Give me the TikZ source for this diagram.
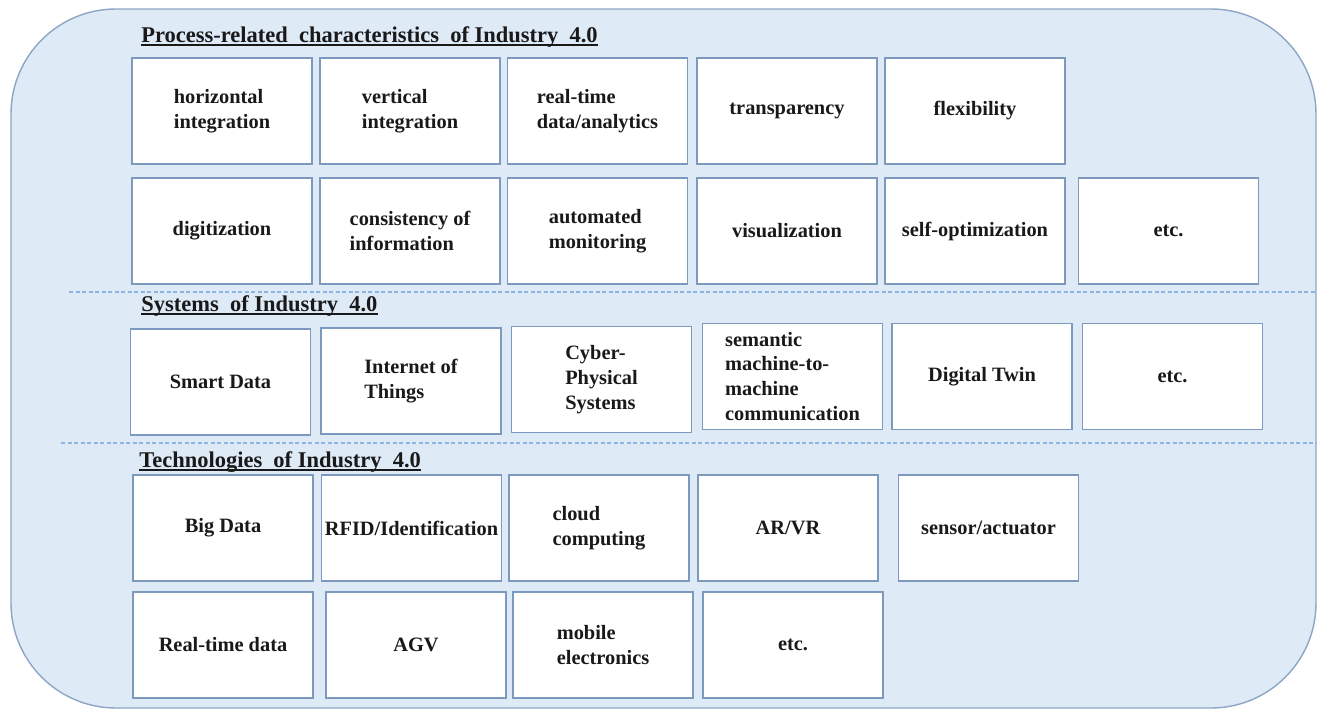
\documentclass[tikz,border=0pt]{standalone}
\usepackage{fontspec}
\setmainfont{Liberation Serif}
\usepackage{tikz}

\definecolor{panelfill}{RGB}{222,234,246}
\definecolor{panelline}{RGB}{140,166,198}
\definecolor{cellline}{RGB}{125,153,190}
\definecolor{sepline}{RGB}{141,180,226}
\definecolor{inktext}{RGB}{25,25,25}

\tikzset{
	cell/.style={draw=cellline, line width=0.8pt, fill=white, minimum width=3.6cm, minimum height=2.12cm, inner sep=1pt, align=left, text=inktext, font=\bfseries\fontsize{11.6}{14.2}\selectfont},
	heading/.style={anchor=base west, inner sep=0pt, text=inktext, font=\bfseries\fontsize{12.8}{15}\selectfont},
	headline/.style={draw=inktext, line width=1.1pt},
	divider/.style={draw=sepline, line width=0.7pt, dash pattern=on 2.3pt off 1.4pt}
}

\begin{document}
\begin{tikzpicture}[x=0.02cm, y=-0.02cm]
			%%%%% START %%%%%
			\useasboundingbox (0, 0) rectangle (1320, 710);
			
			% panel
			\draw[fill=panelfill, draw=panelline, line width=0.8pt, rounded corners=2.1cm] (11, 9) rectangle (1316, 708);
			
			% headings
			\node[heading] (hd-process) at (141, 42) {Process-related~ characteristics~ of Industry~ 4.0};
			\draw[headline] ([yshift=-1.8pt]hd-process.base west) -- ([yshift=-1.8pt]hd-process.base east);
			\node[heading] (hd-systems) at (141, 311) {Systems~ of Industry~ 4.0};
			\draw[headline] ([yshift=-1.8pt]hd-systems.base west) -- ([yshift=-1.8pt]hd-systems.base east);
			\node[heading] (hd-tech) at (139, 467) {Technologies~ of Industry~ 4.0};
			\draw[headline] ([yshift=-1.8pt]hd-tech.base west) -- ([yshift=-1.8pt]hd-tech.base east);
			
			% dividers
			\draw[divider] (69, 292) -- (1316, 292);
			\draw[divider] (61, 443) -- (1316, 443);
			
			% process-related characteristics
			\node[cell] (horiz) at (222, 111) {horizontal\\integration};
			\node[cell] (vert) at (410, 111) {vertical\\integration};
			\node[cell] (rtdata) at (597.5, 111) {real-time\\data/analytics};
			\node[cell] (transp) at (787, 111) {transparency};
			\node[cell] (flex) at (975, 111) {flexibility};
			
			\node[cell] (digit) at (222, 231) {digitization};
			\node[cell] (consist) at (410, 231) {consistency of\\information};
			\node[cell] (automon) at (597.5, 231) {automated\\monitoring};
			\node[cell] (visual) at (787, 231) {visualization};
			\node[cell] (selfopt) at (975, 231) {self-optimization};
			\node[cell] (etc-process) at (1168.5, 231) {etc.};
			
			% systems
			\node[cell] (smart) at (220.5, 382) {Smart Data};
			\node[cell] (iot) at (411, 381) {Internet of\\Things};
			\node[cell] (cps) at (601.5, 379.5) {Cyber-\\Physical\\Systems};
			\node[cell] (m2m) at (792.5, 376.5) {semantic\\machine-to-\\machine\\communication};
			\node[cell] (twin) at (982, 376.5) {Digital Twin};
			\node[cell] (etc-systems) at (1172.5, 376.5) {etc.};
			
			% technologies
			\node[cell] (bigdata) at (223, 528) {Big Data};
			\node[cell] (rfid) at (411.5, 528) {RFID/Identification};
			\node[cell] (cloud) at (599, 528) {cloud\\computing};
			\node[cell] (arvr) at (788, 528) {AR/VR};
			\node[cell] (sensor) at (988.5, 528) {sensor/actuator};
			
			\node[cell] (rtd) at (223, 645) {Real-time data};
			\node[cell] (agv) at (416, 645) {AGV};
			\node[cell] (mobile) at (603, 645) {mobile\\electronics};
			\node[cell] (etc-tech) at (793, 645) {etc.};
			%%%%% END %%%%%
\end{tikzpicture}
\end{document}
